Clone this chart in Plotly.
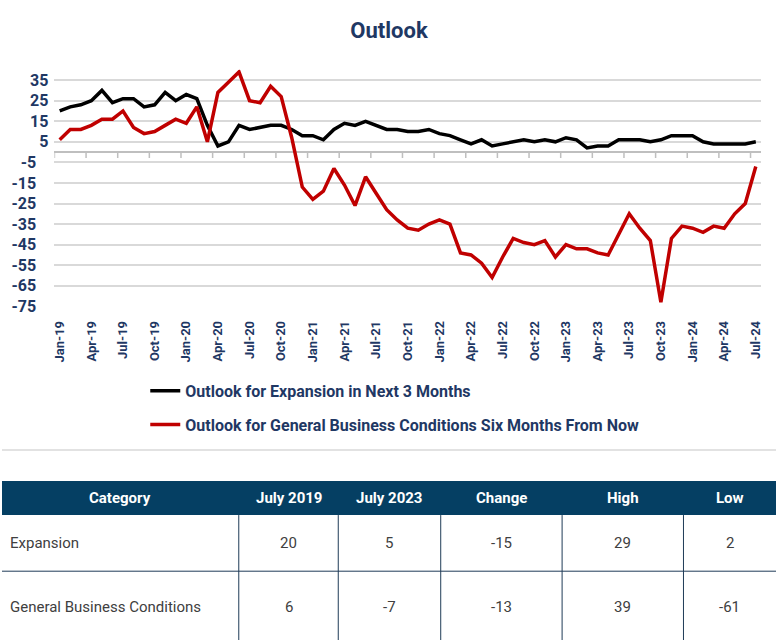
import plotly.graph_objects as go

W, H = 778, 640
K = 1.018  # small vertical calibration factor

# ---------------- data ----------------
expansion = [20, 22, 23, 25, 30, 24, 26, 26, 22, 23, 29, 25,
             28, 26, 13, 3, 5, 13, 11, 12, 13, 13, 11, 8,
             8, 6, 11, 14, 13, 15, 13, 11, 11, 10, 10, 11,
             9, 8, 6, 4, 6, 3, 4, 5, 6, 5, 6, 5,
             7, 6, 2, 3, 3, 6, 6, 6, 5, 6, 8, 8,
             8, 5, 4, 4, 4, 4, 5]
general = [6, 11, 11, 13, 16, 16, 20, 12, 9, 10, 13, 16,
           14, 22, 5, 29, 34, 39, 25, 24, 32, 27, 7, -17,
           -23, -19, -8, -16, -26, -12, -20, -28, -33, -37, -38, -35,
           -33, -35, -49, -50, -54, -61, -51, -42, -44, -45, -43, -51,
           -45, -47, -47, -49, -50, -40, -30, -37, -43, -73, -42, -36,
           -37, -39, -36, -37, -30, -25, -7]
month_index = list(range(len(expansion)))
tick_positions = list(range(0, 67, 3))
tick_labels = ["Jan-19", "Apr-19", "Jul-19", "Oct-19", "Jan-20", "Apr-20", "Jul-20", "Oct-20",
               "Jan-21", "Apr-21", "Jul-21", "Oct-21", "Jan-22", "Apr-22", "Jul-22", "Oct-22",
               "Jan-23", "Apr-23", "Jul-23", "Oct-23", "Jan-24", "Apr-24", "Jul-24"]
y_ticks = [35, 25, 15, 5, -5, -15, -25, -35, -45, -55, -65, -75]

table_headers = ["Category", "July 2019", "July 2023", "Change", "High", "Low"]
tbl_category = ["Expansion", "General Business Conditions"]
tbl_july2019 = [20, 6]
tbl_july2023 = [5, -7]
tbl_change = [-15, -13]
tbl_high = [29, 39]
tbl_low = [2, -61]

# ---------------- style ----------------
NAVY = "#1F3864"
FONT = "Roboto"
HEAD_BG = "#053F63"
GRID_LINE = "#1F3B57"


def py(t):
    """pixel-from-top -> paper y"""
    return 1 - t * K / H


def px(x):
    return x / W


fig = go.Figure()
fig.add_trace(go.Scatter(x=month_index, y=expansion, mode="lines",
                         name="Outlook for Expansion in Next 3 Months",
                         line=dict(color="#000000", width=3.5),
                         legendgroup="a", hoverinfo="skip"))
fig.add_trace(go.Scatter(x=month_index, y=general, mode="lines",
                         name="Outlook for General Business Conditions Six Months From Now",
                         line=dict(color="#C00000", width=3.5),
                         legendgroup="b", hoverinfo="skip"))

# tick marks on the zero axis (between categories)
for t in tick_positions:
    fig.add_shape(type="line", xref="x", yref="y", x0=t - 0.5, x1=t - 0.5,
                  ysizemode="pixel", yanchor=0, y0=0, y1=-6,
                  line=dict(color="#BFBFBF", width=1.5), layer="below")

# separator line under the chart
fig.add_shape(type="line", xref="paper", yref="paper", x0=0, x1=1,
              y0=py(449), y1=py(449), line=dict(color="#D9D9D9", width=1.5))

# ---------------- table (drawn with shapes + text) ----------------
col_widths = [238, 100, 103, 122, 122, 93]
edges = [0]
for wdt in col_widths:
    edges.append(edges[-1] + wdt)
head_top, head_bot = 480, 514
row_bounds = [(514, 570), (570, 644)]
columns = [tbl_category, tbl_july2019, tbl_july2023, tbl_change, tbl_high, tbl_low]

fig.add_shape(type="rect", xref="paper", yref="paper", x0=0, x1=1,
              y0=py(head_bot), y1=py(head_top), fillcolor=HEAD_BG, line=dict(width=0))
for e in edges[1:-1]:
    fig.add_shape(type="line", xref="paper", yref="paper", x0=px(e), x1=px(e),
                  y0=py(row_bounds[-1][1]), y1=py(head_bot),
                  line=dict(color=GRID_LINE, width=1))
for (_, b) in row_bounds:
    fig.add_shape(type="line", xref="paper", yref="paper", x0=0, x1=1,
                  y0=py(b), y1=py(b), line=dict(color=GRID_LINE, width=1))

for j, h in enumerate(table_headers):
    fig.add_annotation(xref="paper", yref="paper",
                       x=px((edges[j] + edges[j + 1]) / 2), y=py((head_top + head_bot) / 2),
                       text=f"<b>{h}</b>", showarrow=False, xanchor="center", yanchor="middle",
                       font=dict(family=FONT, size=15, color="white"))
for j, col in enumerate(columns):
    for r, val in enumerate(col):
        top, bot = row_bounds[r]
        yc = (top + bot) / 2 if r == 0 else 606
        if j == 0:
            fig.add_annotation(xref="paper", yref="paper", x=px(edges[j] + 6), y=py(yc),
                               text=str(val), showarrow=False, xanchor="left", yanchor="middle",
                               font=dict(family=FONT, size=15, color="#404040"))
        else:
            fig.add_annotation(xref="paper", yref="paper",
                               x=px((edges[j] + edges[j + 1]) / 2), y=py(yc),
                               text=str(val), showarrow=False, xanchor="center", yanchor="middle",
                               font=dict(family=FONT, size=15, color="#404040"))

# negative tick labels sit a little further left in the original
y_ticktext = [str(v) if v >= 0 else f"{v}\u2007\u2009" for v in y_ticks]

fig.update_layout(
    width=W, height=H,
    margin=dict(l=0, r=0, t=0, b=0),
    paper_bgcolor="white", plot_bgcolor="white",
    title=dict(text="<b>Outlook</b>", x=0.5, xanchor="center",
               y=py(30), yanchor="middle",
               font=dict(family=FONT, size=22, color=NAVY)),
    xaxis=dict(domain=[52.7 / W, 763 / W], range=[-0.5, 66.5],
               tickvals=tick_positions, ticktext=tick_labels, tickangle=-90,
               tickfont=dict(family=FONT, size=13, color=NAVY, weight="bold"),
               ticklabelstandoff=11,
               showgrid=False, zeroline=False, showline=False, ticks=""),
    yaxis=dict(domain=[py(305.7), py(69.7)], range=[-75, 40],
               tickvals=y_ticks, ticktext=y_ticktext, ticks="",
               tickfont=dict(family=FONT, size=16, color=NAVY, weight="bold"),
               ticklabelstandoff=5,
               showgrid=True, gridcolor="#D9D9D9", gridwidth=1.5,
               zeroline=True, zerolinecolor="#BFBFBF", zerolinewidth=1.5,
               showline=False),
    showlegend=True,
    legend=dict(x=144 / W, xanchor="left", y=py(373), yanchor="top",
                font=dict(family=FONT, size=16, color=NAVY, weight="bold"),
                tracegroupgap=10, bgcolor="rgba(0,0,0,0)"),
)

fig.write_html("out.html")
